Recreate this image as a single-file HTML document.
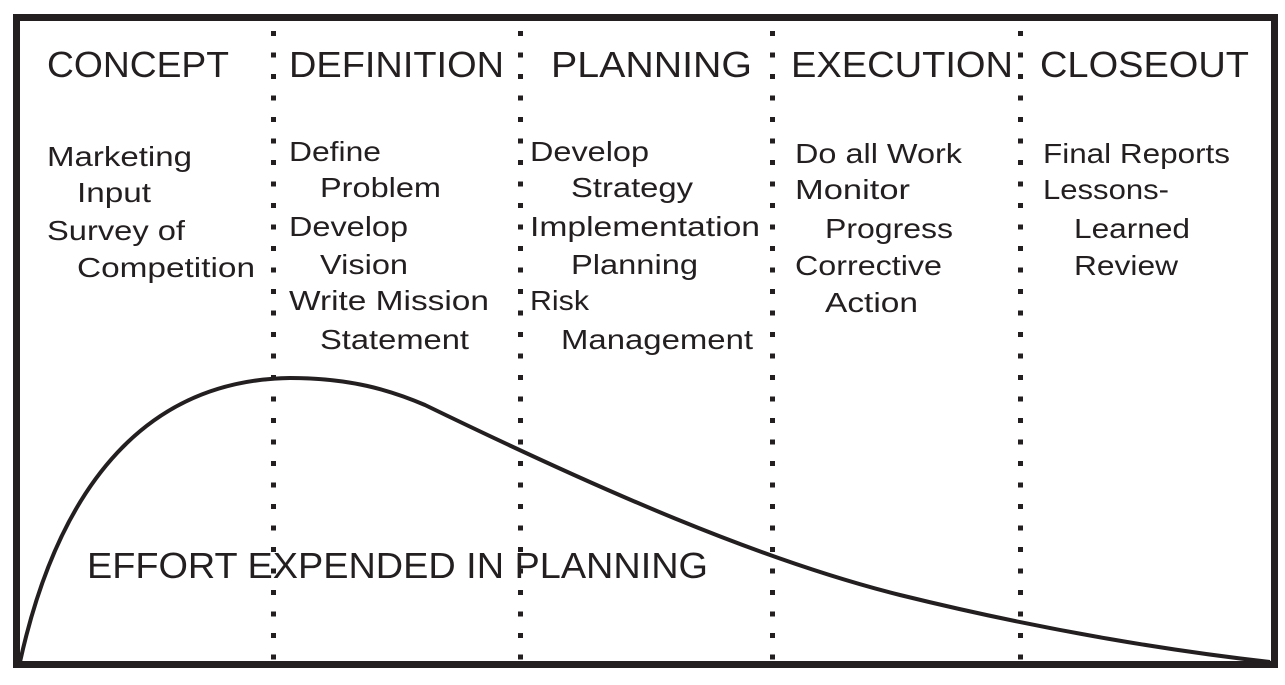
<!DOCTYPE html>
<html><head><meta charset="utf-8"><style>
html,body{margin:0;padding:0;background:#fff;width:1285px;height:685px;overflow:hidden}
text{font-family:"Liberation Sans",sans-serif;fill:#231f20}
</style></head><body>
<svg width="1285" height="685" viewBox="0 0 1285 685" xmlns="http://www.w3.org/2000/svg">
<rect x="16.5" y="17.5" width="1258" height="647" fill="none" stroke="#231f20" stroke-width="7"/>
<path d="M20,662 C60,480 150,380 290,378 C350,378 390,390 425,405 C600,490 760,560 900,595 C1050,632 1180,652 1270,662" fill="none" stroke="#231f20" stroke-width="4"/>
<g stroke="#231f20" stroke-width="5" stroke-dasharray="5 16.5">
<line x1="273.5" y1="31" x2="273.5" y2="664"/>
<line x1="520.5" y1="31" x2="520.5" y2="664"/>
<line x1="772.5" y1="31" x2="772.5" y2="664"/>
<line x1="1020.5" y1="31" x2="1020.5" y2="664"/>
</g>
<text x="47" y="77" font-size="36" textLength="182" lengthAdjust="spacingAndGlyphs">CONCEPT</text>
<text x="289" y="77" font-size="36" textLength="215" lengthAdjust="spacingAndGlyphs">DEFINITION</text>
<text x="551" y="77" font-size="36" textLength="201" lengthAdjust="spacingAndGlyphs">PLANNING</text>
<text x="791" y="77" font-size="36" textLength="222" lengthAdjust="spacingAndGlyphs">EXECUTION</text>
<text x="1040" y="77" font-size="36" textLength="209" lengthAdjust="spacingAndGlyphs">CLOSEOUT</text>
<g font-size="28">
<text x="47" y="166" textLength="145" lengthAdjust="spacingAndGlyphs">Marketing</text>
<text x="77" y="202" textLength="74" lengthAdjust="spacingAndGlyphs">Input</text>
<text x="47" y="240" textLength="138" lengthAdjust="spacingAndGlyphs">Survey of</text>
<text x="77" y="277" textLength="178" lengthAdjust="spacingAndGlyphs">Competition</text>
<text x="289" y="161" textLength="92" lengthAdjust="spacingAndGlyphs">Define</text>
<text x="320" y="197" textLength="121" lengthAdjust="spacingAndGlyphs">Problem</text>
<text x="289" y="236" textLength="119" lengthAdjust="spacingAndGlyphs">Develop</text>
<text x="320" y="274" textLength="88" lengthAdjust="spacingAndGlyphs">Vision</text>
<text x="289" y="310" textLength="200" lengthAdjust="spacingAndGlyphs">Write Mission</text>
<text x="320" y="349" textLength="149" lengthAdjust="spacingAndGlyphs">Statement</text>
<text x="530" y="161" textLength="119" lengthAdjust="spacingAndGlyphs">Develop</text>
<text x="571" y="197" textLength="122" lengthAdjust="spacingAndGlyphs">Strategy</text>
<text x="530" y="236" textLength="230" lengthAdjust="spacingAndGlyphs">Implementation</text>
<text x="571" y="274" textLength="127" lengthAdjust="spacingAndGlyphs">Planning</text>
<text x="530" y="310" textLength="59" lengthAdjust="spacingAndGlyphs">Risk</text>
<text x="561" y="349" textLength="192" lengthAdjust="spacingAndGlyphs">Management</text>
<text x="795" y="163" textLength="167" lengthAdjust="spacingAndGlyphs">Do all Work</text>
<text x="795" y="199" textLength="115" lengthAdjust="spacingAndGlyphs">Monitor</text>
<text x="825" y="238" textLength="128" lengthAdjust="spacingAndGlyphs">Progress</text>
<text x="795" y="275" textLength="147" lengthAdjust="spacingAndGlyphs">Corrective</text>
<text x="825" y="312" textLength="93" lengthAdjust="spacingAndGlyphs">Action</text>
<text x="1043" y="163" textLength="187" lengthAdjust="spacingAndGlyphs">Final Reports</text>
<text x="1043" y="199" textLength="126" lengthAdjust="spacingAndGlyphs">Lessons-</text>
<text x="1074" y="238" textLength="116" lengthAdjust="spacingAndGlyphs">Learned</text>
<text x="1074" y="275" textLength="104" lengthAdjust="spacingAndGlyphs">Review</text>
</g>
<text x="87" y="578" font-size="36" textLength="621" lengthAdjust="spacingAndGlyphs">EFFORT EXPENDED IN PLANNING</text>
</svg>
</body></html>
